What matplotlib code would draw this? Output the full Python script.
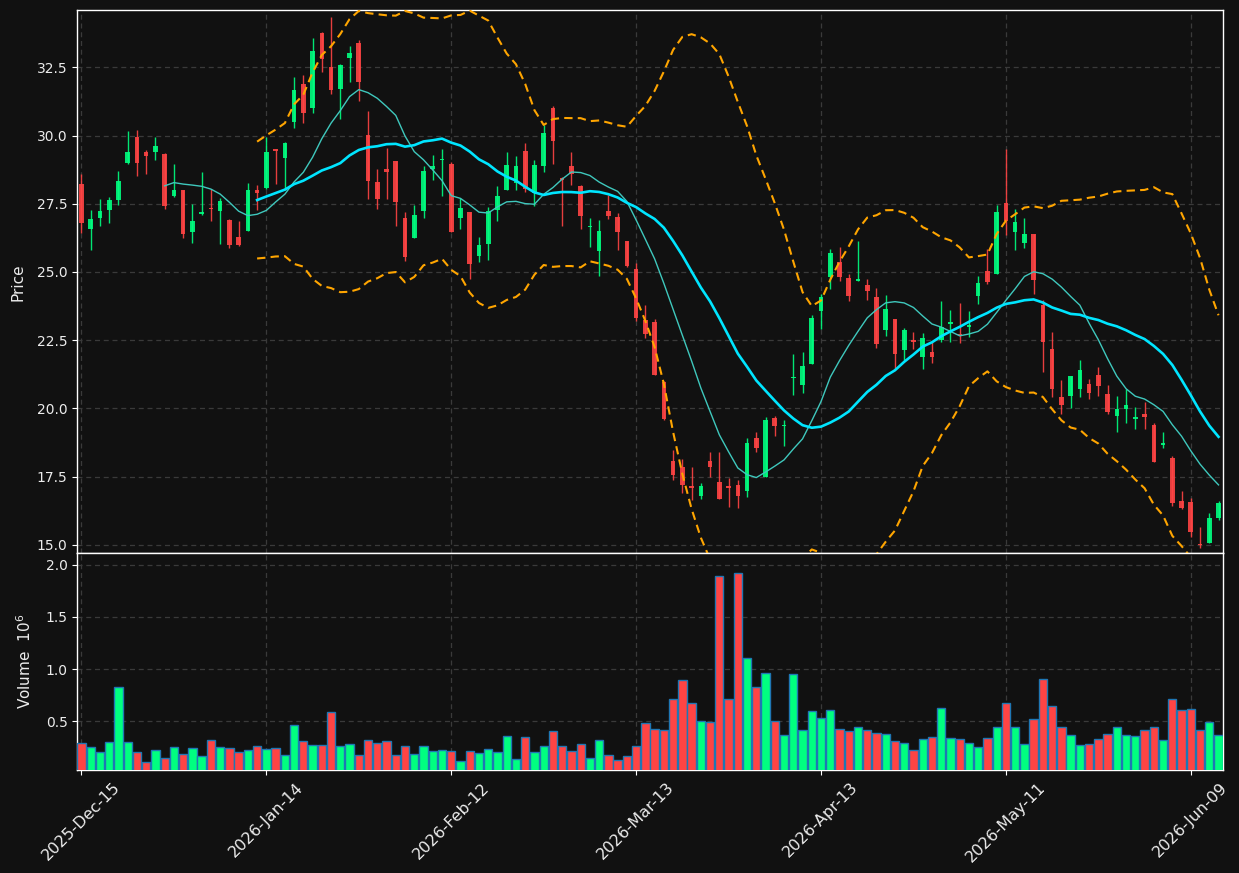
import numpy as np
import pandas as pd
import matplotlib
matplotlib.use("Agg")
import matplotlib.pyplot as plt

# ---------------- data ----------------
start_date = "2025-12-15"
end_date = "2026-06-12"
holidays = ["2025-12-25", "2026-01-01", "2026-01-19", "2026-02-16", "2026-04-03", "2026-05-25"]

opens = [28.23, 26.57, 26.98, 27.28, 27.63, 28.98, 29.96, 29.41, 29.39, 29.34,
         27.77, 27.99, 26.45, 27.11, 27.34, 27.22, 26.89, 26.27, 26.52, 28.02,
         28.07, 29.49, 29.17, 30.49, 31.89, 31.00, 33.76, 32.51, 31.72, 32.86,
         33.39, 30.01, 28.28, 28.76, 29.06, 26.96, 26.24, 27.23, 28.77, 29.09,
         28.95, 26.99, 27.18, 25.58, 26.02, 27.27, 28.00, 28.27, 29.42, 27.90,
         28.88, 31.00, 28.46, 28.90, 28.16, 26.64, 25.76, 27.25, 27.00, 26.12,
         25.12, 23.25, 23.17, 20.98, 18.09, 17.87, 17.14, 16.78, 18.09, 17.32,
         17.14, 17.21, 16.97, 18.93, 17.50, 19.65, 19.35, 21.12, 20.85, 21.62,
         23.56, 24.80, 25.36, 24.77, 24.68, 24.52, 24.08, 22.88, 23.27, 22.15,
         22.50, 21.89, 22.08, 22.52, 23.10, 22.74, 22.99, 24.13, 25.03, 24.93,
         27.53, 26.46, 26.08, 26.38, 23.78, 22.17, 20.41, 20.46, 20.72, 20.89,
         21.22, 20.52, 19.73, 19.98, 19.63, 19.81, 19.39, 18.67, 18.20, 16.59,
         16.56, 15.02, 15.05, 16.00]
highs = [28.60, 27.28, 27.67, 27.74, 28.71, 30.18, 30.21, 29.48, 29.94, 29.36,
         28.94, 28.01, 27.50, 28.65, 28.04, 27.72, 26.95, 26.88, 28.27, 28.20,
         29.94, 29.52, 29.77, 32.13, 32.21, 33.57, 33.78, 34.36, 32.63, 33.27,
         33.50, 30.89, 28.79, 29.56, 29.08, 27.21, 27.46, 28.88, 29.30, 29.50,
         29.03, 27.71, 27.20, 26.30, 27.39, 28.16, 29.38, 29.26, 29.74, 29.12,
         30.40, 31.10, 28.48, 29.40, 28.17, 26.97, 26.89, 27.83, 27.16, 26.13,
         25.34, 23.80, 23.28, 20.99, 18.46, 18.14, 17.86, 17.27, 18.41, 18.41,
         17.45, 17.38, 18.92, 19.14, 19.69, 19.73, 19.57, 22.00, 22.07, 23.42,
         24.19, 25.84, 25.90, 24.92, 26.13, 24.73, 24.43, 24.14, 23.28, 22.94,
         22.80, 22.75, 22.42, 23.94, 23.59, 23.85, 23.57, 24.85, 25.84, 27.44,
         29.52, 27.32, 26.99, 26.39, 23.99, 22.81, 21.03, 21.19, 21.79, 21.06,
         21.50, 20.86, 20.47, 20.70, 20.04, 20.22, 19.45, 19.12, 18.25, 16.96,
         16.73, 15.67, 16.15, 16.60]
lows = [26.43, 25.82, 26.70, 26.80, 27.46, 28.95, 28.52, 28.60, 29.11, 27.32,
        27.75, 26.26, 26.06, 27.10, 26.88, 26.02, 25.89, 25.95, 26.52, 27.26,
        28.05, 28.24, 28.01, 30.29, 30.47, 30.81, 32.32, 31.54, 30.62, 31.97,
        31.27, 27.68, 27.29, 27.68, 26.70, 25.40, 26.24, 26.99, 28.38, 27.78,
        26.45, 26.58, 24.74, 25.37, 25.44, 26.85, 28.00, 27.99, 27.92, 27.40,
        28.68, 28.95, 26.67, 28.17, 26.56, 25.93, 24.87, 26.94, 25.81, 25.20,
        23.21, 22.58, 21.21, 19.58, 17.36, 16.90, 16.65, 16.69, 17.48, 16.67,
        16.38, 16.36, 16.75, 18.41, 17.50, 18.98, 18.61, 20.49, 20.57, 21.62,
        22.91, 24.38, 24.68, 23.94, 24.68, 23.99, 22.23, 22.64, 21.46, 21.77,
        22.19, 21.44, 21.65, 22.45, 22.42, 22.38, 22.62, 23.82, 24.55, 24.93,
        26.35, 25.82, 25.89, 24.21, 21.35, 20.42, 19.81, 20.00, 20.42, 20.36,
        20.46, 19.79, 19.15, 19.48, 19.26, 19.23, 18.02, 18.56, 16.42, 16.30,
        15.30, 14.87, 15.05, 15.91]
closes = [26.79, 26.93, 27.22, 27.62, 28.32, 29.41, 28.99, 29.24, 29.63, 27.41,
          27.99, 26.38, 26.85, 27.18, 27.30, 27.59, 25.98, 25.98, 27.99, 27.91,
          29.41, 29.45, 29.72, 31.67, 30.83, 33.10, 32.79, 31.68, 32.59, 33.03,
          31.97, 28.33, 27.67, 28.66, 27.56, 25.54, 27.07, 28.69, 28.87, 29.13,
          26.45, 27.33, 25.28, 26.00, 27.25, 27.79, 28.91, 28.87, 28.04, 28.91,
          30.09, 29.80, 28.38, 28.60, 27.05, 26.70, 26.51, 27.05, 26.46, 25.21,
          23.30, 22.72, 21.21, 19.60, 17.55, 17.19, 17.08, 17.17, 17.84, 16.67,
          17.08, 16.78, 18.75, 18.54, 19.59, 19.35, 19.37, 21.14, 21.57, 23.33,
          24.10, 25.70, 24.82, 24.13, 24.73, 24.31, 22.37, 23.63, 22.00, 22.87,
          22.43, 22.58, 21.89, 22.98, 23.15, 22.70, 23.04, 24.59, 24.63, 27.19,
          26.87, 26.82, 26.38, 24.71, 22.44, 20.72, 20.12, 21.17, 21.40, 20.57,
          20.83, 19.87, 19.97, 20.12, 19.69, 19.69, 18.04, 18.72, 16.52, 16.36,
          15.48, 14.98, 15.97, 16.52]
volumes_m = [0.289, 0.251, 0.203, 0.299, 0.826, 0.299, 0.203, 0.107, 0.222, 0.145,
             0.251, 0.184, 0.241, 0.165, 0.318, 0.251, 0.241, 0.203, 0.222, 0.260,
             0.232, 0.241, 0.174, 0.462, 0.308, 0.270, 0.270, 0.586, 0.260, 0.280,
             0.174, 0.318, 0.289, 0.308, 0.174, 0.260, 0.184, 0.260, 0.212, 0.222,
             0.212, 0.117, 0.212, 0.193, 0.232, 0.203, 0.356, 0.136, 0.347, 0.203,
             0.260, 0.404, 0.260, 0.212, 0.280, 0.145, 0.318, 0.174, 0.126, 0.165,
             0.260, 0.481, 0.423, 0.414, 0.711, 0.893, 0.673, 0.500, 0.490, 1.890,
             0.711, 1.919, 1.104, 0.826, 0.960, 0.500, 0.366, 0.950, 0.414, 0.596,
             0.529, 0.605, 0.423, 0.404, 0.442, 0.414, 0.385, 0.375, 0.308, 0.289,
             0.222, 0.327, 0.347, 0.625, 0.337, 0.327, 0.289, 0.251, 0.337, 0.442,
             0.673, 0.442, 0.280, 0.519, 0.903, 0.644, 0.442, 0.366, 0.270, 0.280,
             0.327, 0.375, 0.442, 0.366, 0.356, 0.414, 0.442, 0.318, 0.711, 0.605,
             0.615, 0.414, 0.490, 0.366]
tick_step = 20
mav_short = 10
mav_long = 20
bb_window = 20
bb_k = 2

# ---------------- derived ----------------
dates = pd.bdate_range(start_date, end_date)
dates = dates[~dates.isin(pd.to_datetime(holidays))]
n = len(closes)
dates = dates[:n]
x = np.arange(n)
o = np.array(opens); h = np.array(highs); l = np.array(lows); c = np.array(closes)
v = np.array(volumes_m) * 1e6
up = c >= o

close_s = pd.Series(c)
ma_s = close_s.rolling(mav_short).mean()
ma_l = close_s.rolling(mav_long).mean()
bb_mid = close_s.rolling(bb_window).mean()
bb_std = close_s.rolling(bb_window).std()
bb_up = bb_mid + bb_k * bb_std
bb_lo = bb_mid - bb_k * bb_std

# ---------------- style ----------------
BG = "#111111"
UP = "#00ff80"
DOWN = "#ff4444"
GRID = "#3a3a3a"
TXT = "#ececec"

plt.rcParams.update({
    "font.family": ["DejaVu Sans"],
    "font.size": 10,
    "axes.edgecolor": "white",
    "xtick.color": "white",
    "ytick.color": "white",
    "xtick.labelcolor": TXT,
    "ytick.labelcolor": TXT,
})

fig = plt.figure(figsize=(12.39, 8.73), dpi=100, facecolor=BG)
left, right = 77.3 / 1239, 1222.7 / 1239
ax = fig.add_axes([left, 1 - 553.3 / 873, right - left, (553.3 - 10.3) / 873])
axv = fig.add_axes([left, 1 - 770 / 873, right - left, (770 - 553.3) / 873], sharex=ax)

for a in (ax, axv):
    a.set_facecolor(BG)
    a.grid(True, color=GRID, linestyle=(0, (4, 3)), linewidth=0.9)
    a.set_axisbelow(True)
    for s in a.spines.values():
        s.set_color("white")
        s.set_linewidth(1.0)

# candles
cols = np.where(up, UP, DOWN)
ax.vlines(x, l, h, colors=cols, linewidth=1.0, alpha=0.9, zorder=2)
body_lo = np.minimum(o, c)
body_h = np.maximum(np.abs(c - o), 0.03)
ax.bar(x, body_h, bottom=body_lo, width=0.5, color=cols, alpha=0.9, linewidth=0, zorder=3)

# moving averages & bollinger
ax.plot(x, ma_s, color="#3fc8bd", linewidth=1.0, zorder=4)
ax.plot(x, ma_l, color="#00e5ff", linewidth=1.9, zorder=4)
ax.plot(x, bb_up, color="#ffa500", linewidth=1.5, linestyle=(0, (4, 2.5)), zorder=4)
ax.plot(x, bb_lo, color="#ffa500", linewidth=1.5, linestyle=(0, (4, 2.5)), zorder=4)

ax.set_ylim(14.69, 34.59)
ax.set_xlim(-0.45, n - 1 + 0.45)
ax.set_ylabel("Price", color=TXT, fontsize=11)
ax.yaxis.set_label_coords(-0.045, 0.5)
ax.set_yticks([15.0, 17.5, 20.0, 22.5, 25.0, 27.5, 30.0, 32.5])
ax.set_yticklabels(["15.0", "17.5", "20.0", "22.5", "25.0", "27.5", "30.0", "32.5"])
plt.setp(ax.get_xticklabels(), visible=False)
ax.tick_params(axis="x", length=0)

# volume
axv.bar(x, v, width=0.9, color=cols, edgecolor="#1f77b4", linewidth=1.0, zorder=3)
axv.set_ylim(0.3 * v.min(), 1.1 * v.max())
axv.set_yticks([0.5e6, 1.0e6, 1.5e6, 2.0e6])
axv.set_yticklabels(["0.5", "1.0", "1.5", "2.0"])
axv.set_ylabel("Volume  $10^{6}$", color=TXT, fontsize=11)
axv.yaxis.set_label_coords(-0.038, 0.5)

tick_pos = list(range(0, n, tick_step))
axv.set_xticks(tick_pos)
axv.set_xticklabels([dates[i].strftime("%Y-%b-%d") for i in tick_pos], rotation=45, ha="center",
                    fontsize=11.5)

fig.savefig("out.png", dpi=100, facecolor=BG)
